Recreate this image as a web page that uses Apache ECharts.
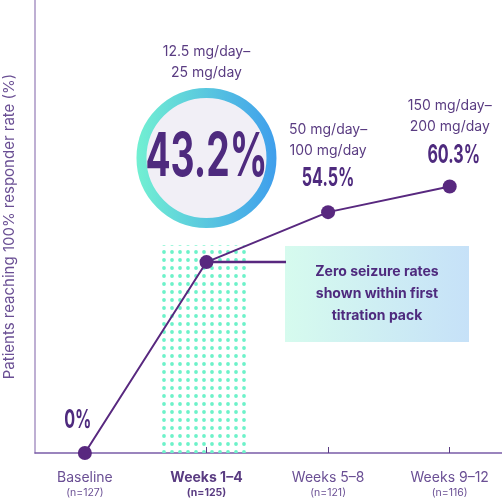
<!DOCTYPE html><html><head><meta charset="utf-8"><script src="https://cdn.jsdelivr.net/npm/echarts@6/dist/echarts.min.js"></script>
<style>html,body{margin:0;padding:0;background:#fff}#c{width:502px;height:503px}</style></head><body><div id="c"></div><script>
const categories=['Baseline','Weeks 1–4','Weeks 5–8','Weeks 9–12'];
const nLabels=['(n=127)','(n=125)','(n=121)','(n=116)'];
const values=[0,43.2,54.5,60.3];
const doses=['','12.5 mg/day–\n25 mg/day','50 mg/day–\n100 mg/day','150 mg/day–\n200 mg/day'];
const P='#58287f';
const cv=document.createElement('canvas');cv.width=8;cv.height=8;const cx=cv.getContext('2d');
cx.fillStyle='#6df2c9';cx.beginPath();cx.arc(4,4,1.9,0,Math.PI*2);cx.fill();
const chart=echarts.init(document.getElementById('c'));
chart.setOption({
 animation:false,
 grid:{left:35,right:0,top:0,bottom:50,outerBoundsMode:'none',containLabel:false},
 xAxis:{type:'value',min:-0.41,max:3.43,splitLine:{show:false},
  axisLine:{lineStyle:{color:'#7a5ca8',width:1.5}},
  axisTick:{show:true,customValues:[1,2,3],length:6,inside:true,lineStyle:{color:'#5a3c82'}},
  axisLabel:{customValues:[0,1,2,3],margin:16,formatter:v=>{const i=Math.round(v);return (i===1?'{b|':'{a|')+categories[i]+'}\n'+(i===1?'{nb|':'{n|')+nLabels[i]+'}';},
   rich:{a:{fontSize:14,color:'#6a4f94',fontFamily:'Inter',lineHeight:18},b:{fontSize:14,fontWeight:'bold',color:'#5a3c82',fontFamily:'Inter',lineHeight:18},
   n:{fontSize:10.5,color:'#6a4f94',fontFamily:'Inter'},nb:{fontSize:10.5,fontWeight:'bold',color:'#5a3c82',fontFamily:'Inter'}}}},
 yAxis:{type:'value',min:0,max:102.5,splitLine:{show:false},axisLabel:{show:false},axisTick:{show:false},
  axisLine:{show:true,onZero:false,lineStyle:{color:'#a995c4',width:1.5}},
  name:'Patients reaching 100% responder rate (%)',nameLocation:'middle',nameGap:18,
  nameTextStyle:{fontSize:15,color:'#6a4f94',fontFamily:'Inter'}},
 series:[{type:'line',data:values.map((v,i)=>[i,v]),symbol:'circle',symbolSize:14,
  lineStyle:{color:P,width:2},itemStyle:{color:P},
  markArea:{silent:true,itemStyle:{color:{image:cv,repeat:'repeat'}},data:[[{coord:[0.62,0]},{coord:[1.33,47]}]]},
  z:3
 }]
});
const px=values.map((v,i)=>chart.convertToPixel({gridIndex:0},[i,v]));
const big=(x,y,s,t)=>({type:'text',x:x,y:y,scaleX:0.62,style:{text:t,font:'bold '+s+'px Inter',fill:'#4e2a7e',align:'center',verticalAlign:'middle'},z:10});
const dose=(x,y,t)=>({type:'text',x:x,y:y,style:{text:t,font:'14px Inter',fill:'#5a3c82',align:'center',verticalAlign:'middle',lineHeight:21},z:10});
const c1=px[1];
chart.setOption({graphic:[
  {type:'line',shape:{x1:c1[0],y1:c1[1],x2:286,y2:c1[1]},style:{stroke:P,lineWidth:2.5},z:1},
  {type:'rect',shape:{x:285,y:246,width:184,height:96},style:{fill:new echarts.graphic.LinearGradient(0,0,1,0,[{offset:0,color:'#d6fbee'},{offset:1,color:'#c6e1f8'}])}},
  {type:'text',x:377,y:294,style:{text:'Zero seizure rates\nshown within first\ntitration pack',font:'bold 14px Inter',fill:'#4e2a7e',align:'center',verticalAlign:'middle',lineHeight:22}},
  {type:'circle',shape:{cx:c1[0],cy:158,r:65},style:{fill:'#f1eff6',stroke:new echarts.graphic.LinearGradient(0,0,1,0,[{offset:0,color:'#72f0d2'},{offset:1,color:'#3f9eec'}]),lineWidth:10}},
  big(c1[0],158,60,values[1]+'%'),
  dose(c1[0],62,doses[1]),
  big(px[0][0]-7,420,26,values[0]+'%'),
  dose(px[2][0],140,doses[2]), big(px[2][0],178,26,values[2]+'%'),
  dose(px[3][0],116,doses[3]), big(px[3][0]+4,155,26,values[3]+'%')
]});
</script></body></html>
